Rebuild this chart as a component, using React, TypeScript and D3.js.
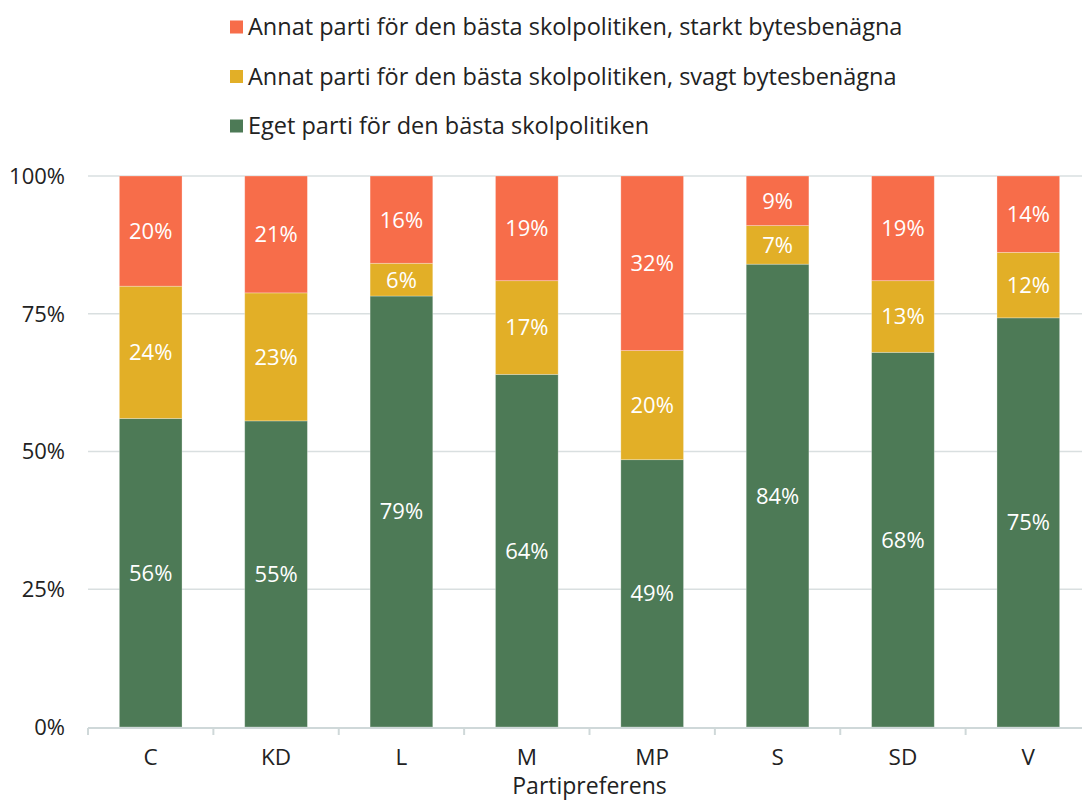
import React from 'react';
import * as d3 from 'd3';

const parties = ['C', 'KD', 'L', 'M', 'MP', 'S', 'SD', 'V'];
const egetParti = [56, 55, 79, 64, 49, 84, 68, 75];
const svagtByte = [24, 23, 6, 17, 20, 7, 13, 12];
const starktByte = [20, 21, 16, 19, 32, 9, 19, 14];
const yTicks = [0, 0.25, 0.5, 0.75, 1];

const seriesKeys = ['eget', 'svagt', 'starkt'];
const seriesNames = {
  eget: 'Eget parti för den bästa skolpolitiken',
  svagt: 'Annat parti för den bästa skolpolitiken, svagt bytesbenägna',
  starkt: 'Annat parti för den bästa skolpolitiken, starkt bytesbenägna',
};
const colors = { eget: '#4d7a56', svagt: '#e2af27', starkt: '#f76d4a' };
const legendOrder = ['starkt', 'svagt', 'eget'];

const FONT = '"Open Sans", Lato, sans-serif';

export default function App() {
  const width = 1082;
  const height = 801;
  const margin = { top: 176, right: -9, bottom: 73, left: 88 };

  const rows = parties.map((p, i) => ({
    party: p,
    eget: egetParti[i],
    svagt: svagtByte[i],
    starkt: starktByte[i],
  }));

  // values are shares per party, normalised so each bar reaches 100%
  const stacked = d3.stack().keys(seriesKeys).offset(d3.stackOffsetExpand)(rows);

  const x = d3.scaleBand()
    .domain(parties)
    .range([margin.left, width - margin.right])
    .paddingInner(0.5)
    .paddingOuter(0.25);

  const y = d3.scaleLinear()
    .domain([0, 1])
    .range([height - margin.bottom - 1, margin.top]);

  const step = x.step();
  const x0 = margin.left;
  const y0 = y(0);

  return (
    <svg width={width} height={height} style={{ position: 'absolute', left: 0, top: 0 }} fontFamily={FONT}>
      <rect width={width} height={height} fill="#fff" />

      {/* legend */}
      {legendOrder.map((k, i) => (
        <g key={k} transform={`translate(230, ${27 + i * 49.5})`}>
          <rect x={0} y={-6.5} width={13} height={13} fill={colors[k]} />
          <text x={18} dy="0.36em" fontSize={23.5} fill="#222">{seriesNames[k]}</text>
        </g>
      ))}

      {/* grid */}
      {yTicks.map(t => (
        <g key={t}>
          {t > 0 && (
            <line x1={x0} x2={width} y1={y(t)} y2={y(t)} stroke="#d9dfe0" strokeWidth={1.5} />
          )}
          <text x={65} y={y(t)} dy="0.36em" textAnchor="end" fontSize={22} fill="#222">
            {d3.format('.0%')(t)}
          </text>
        </g>
      ))}

      {/* bars */}
      {stacked.map(s => (
        <g key={s.key} fill={colors[s.key]}>
          {s.map(d => (
            <rect
              key={d.data.party}
              x={x(d.data.party)}
              y={y(d[1])}
              width={x.bandwidth()}
              height={y(d[0]) - y(d[1])}
              stroke="#fff"
              strokeOpacity={0.35}
              strokeWidth={0.8}
            />
          ))}
        </g>
      ))}

      {/* value labels */}
      {stacked.map(s => (
        <g key={s.key + '-lbl'}>
          {s.map(d => (
            <text
              key={d.data.party}
              x={x(d.data.party) + x.bandwidth() / 2}
              y={(y(d[0]) + y(d[1])) / 2}
              dy="0.36em"
              textAnchor="middle"
              fontSize={22}
              fill="#fff"
            >
              {d.data[s.key]}%
            </text>
          ))}
        </g>
      ))}

      {/* x axis */}
      <line x1={x0} x2={width} y1={y0 + 1} y2={y0 + 1} stroke="#cfd8d9" strokeWidth={2} />
      {d3.range(parties.length + 1).map(i => (
        <line key={i} x1={x0 + i * step} x2={x0 + i * step} y1={y0 + 1} y2={y0 + 8} stroke="#cfd8d9" strokeWidth={2} />
      ))}
      {parties.map(p => (
        <text key={p} x={x(p) + x.bandwidth() / 2} y={757} dy="0.36em" textAnchor="middle" fontSize={22.5} fill="#222">
          {p}
        </text>
      ))}
      <text x={x0 + step * parties.length / 2} y={786} dy="0.36em" textAnchor="middle" fontSize={23} fill="#222">
        Partipreferens
      </text>
    </svg>
  );
}
